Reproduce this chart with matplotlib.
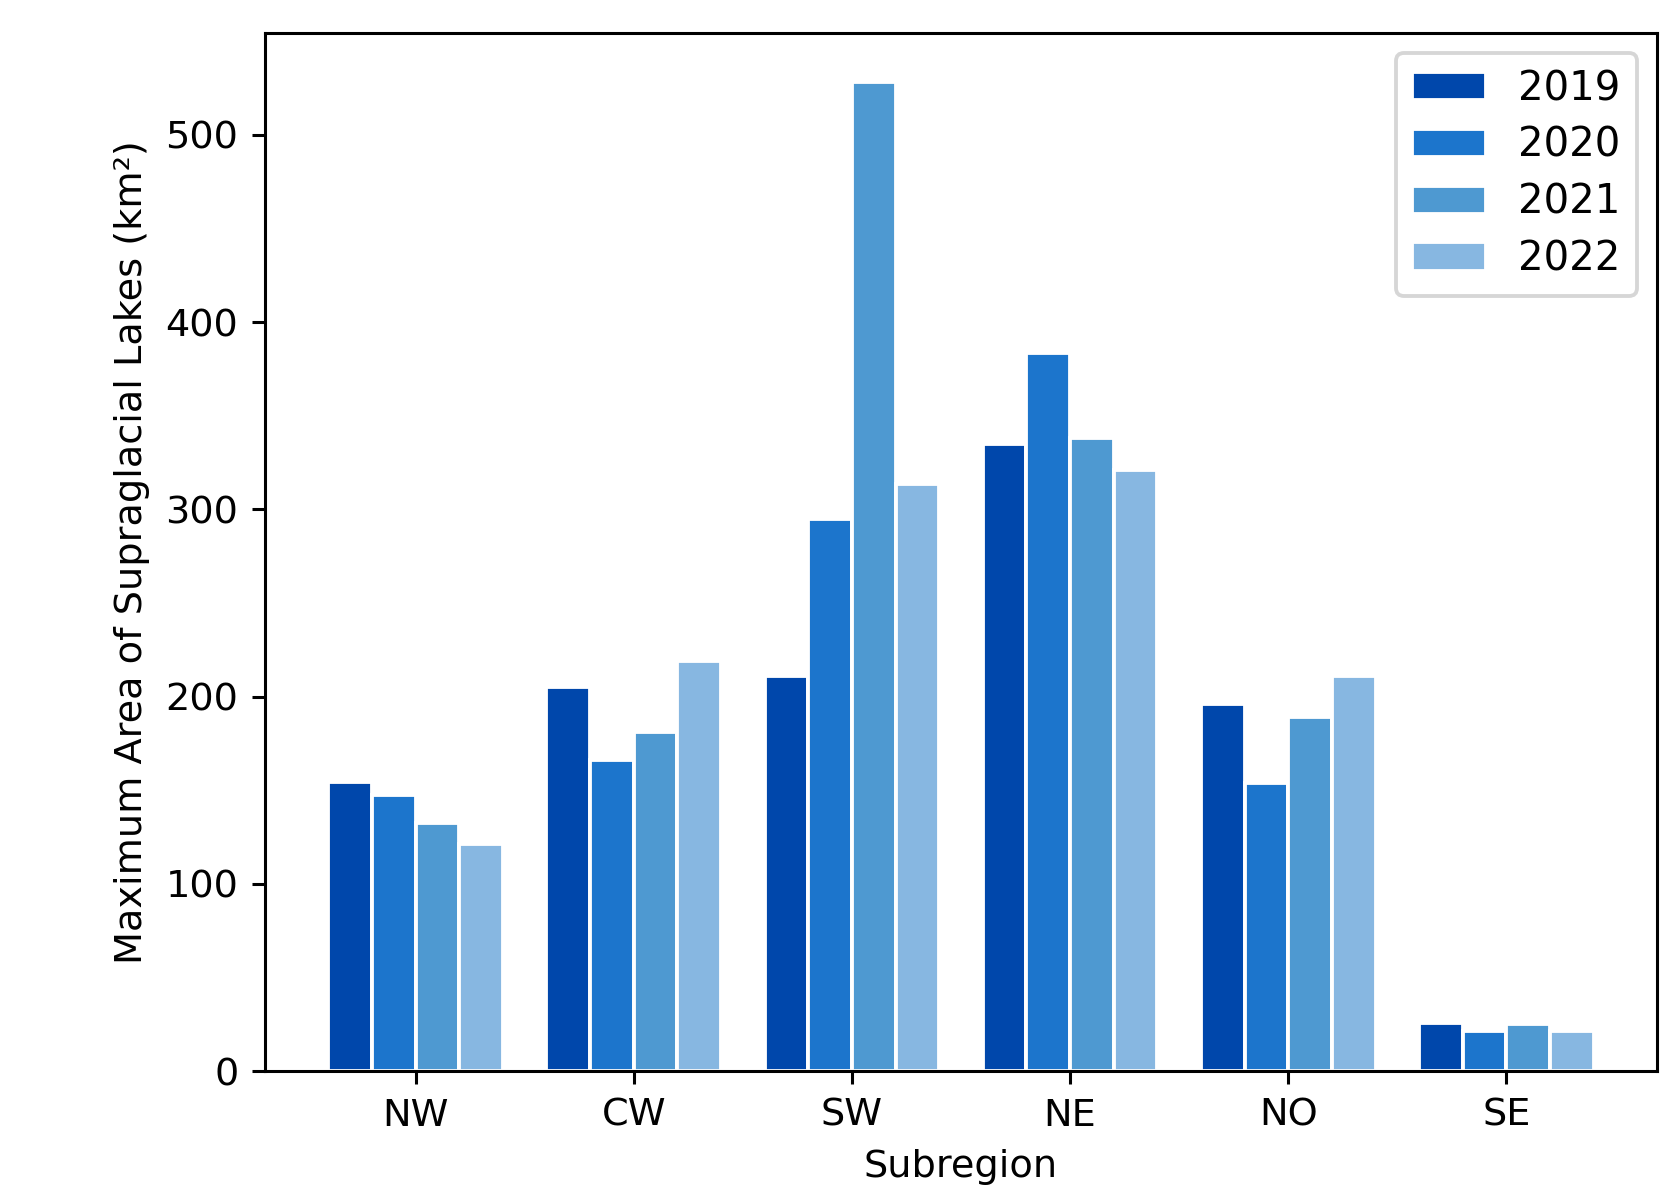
import numpy as np
import matplotlib
matplotlib.use('Agg')
import matplotlib.pyplot as plt

regions = ['NW', 'CW', 'SW', 'NE', 'NO', 'SE']
years = ['2019', '2020', '2021', '2022']
a2019 = [154.5, 205, 211, 335, 196, 25.6]
a2020 = [147.6, 166, 295, 383.5, 154, 21.6]
a2021 = [132.7, 181, 528, 338, 189, 25.1]
a2022 = [121.3, 219.2, 313.7, 321.2, 211.2, 21.6]
colors = ['#0047ab', '#1c75cc', '#4e99d1', '#87b7e1']

fig = plt.figure(figsize=(1672/275, 1185/275), dpi=275)
ax = fig.add_axes([0.1585, 0.0962, 0.991-0.1585, 0.9722-0.0962])

x = np.arange(len(regions))
w = 0.2
for i, (vals, yr) in enumerate(zip([a2019, a2020, a2021, a2022], years)):
    ax.bar(x + (i - 1.5)*w, vals, w, color=colors[i], edgecolor='white', linewidth=1, label=yr)

ax.set_xticks(x)
ax.set_xticklabels(regions)
ax.set_xlabel('Subregion')
ax.set_ylabel('Maximum Area of Supraglacial Lakes (km²)')
ax.legend(loc='upper right', fontsize=10.5, handlelength=1.85, labelspacing=0.42)
fig.savefig('out.png', dpi=275)
